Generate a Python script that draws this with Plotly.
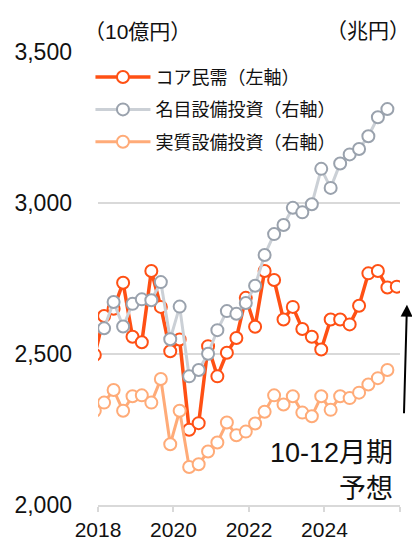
import plotly.graph_objects as go

# Quarterly dates (plotted at the third month of each quarter), 2017Q4 .. 2025Q4
quarters = [f"{y}-{m:02d}-01" for y in range(2017, 2026) for m in (3, 6, 9, 12)][3:]

# コア民需 (10億円, left axis)
core_orders = [2497, 2626, 2650, 2736, 2557, 2539, 2775, 2656, 2509,
               2548, 2249, 2271, 2526, 2426, 2504, 2553, 2686,
               2590, 2775, 2745, 2614, 2656, 2583, 2557, 2515,
               2614, 2614, 2598, 2660, 2767, 2775, 2720, 2723]

# 名目設備投資 (兆円, right axis)
nominal_capex = [None, 89.5, 92.4, 89.7, 92.2, 92.7, 92.6, 94.6, 88.3,
                 91.9, 84.2, 84.9, 86.7, 89.3, 91.4, 91.1, 92.3,
                 94.2, 97.6, 99.9, 100.9, 102.8, 102.3, 103.2, 107.1,
                 105.0, 107.7, 108.7, 109.3, 110.7, 112.8, 113.7, None]

# 実質設備投資 (兆円, right axis)
real_capex = [80.4, 81.3, 82.7, 80.4, 82.0, 82.1, 81.3, 83.9, 76.7,
              80.4, 74.2, 74.5, 75.9, 76.9, 79.1, 77.7, 78.1,
              79.0, 80.3, 82.1, 81.1, 82.0, 80.2, 79.8, 82.0,
              80.5, 82.0, 81.8, 82.4, 83.3, 84.0, 84.9, None]

left_ticks = [2000, 2500, 3000, 3500]
x_tick_years = ["2018", "2020", "2022", "2024", "2026"]
x_tick_text = ["2018", "2020", "2022", "2024", ""]

FONT = "Arial, 'Liberation Sans', 'Noto Sans CJK JP', sans-serif"
ORANGE = "#FF5014"
GRAY_LINE = "#CBD0D6"
GRAY_MARK = "#9AA2AD"
LIGHT = "#FFAB78"

fig = go.Figure()
fig.add_trace(go.Scatter(
    x=quarters, y=core_orders, name="コア民需（左軸）", yaxis="y",
    mode="lines+markers", legendgroup="a",
    line=dict(color=ORANGE, width=3.5),
    marker=dict(symbol="circle", size=12, color="white",
                line=dict(color=ORANGE, width=2)),
))
fig.add_trace(go.Scatter(
    x=quarters, y=nominal_capex, name="名目設備投資（右軸）", yaxis="y2",
    mode="lines+markers", legendgroup="b",
    line=dict(color=GRAY_LINE, width=3),
    marker=dict(symbol="circle", size=12, color="white",
                line=dict(color=GRAY_MARK, width=2)),
))
fig.add_trace(go.Scatter(
    x=quarters, y=real_capex, name="実質設備投資（右軸）", yaxis="y2",
    mode="lines+markers", legendgroup="c",
    line=dict(color=LIGHT, width=3),
    marker=dict(symbol="circle", size=12, color="white",
                line=dict(color=LIGHT, width=2)),
))

fig.update_layout(
    width=412, height=542,
    margin=dict(l=98, r=12, t=52, b=37, autoexpand=False),
    paper_bgcolor="white", plot_bgcolor="white",
    font=dict(family=FONT, color="#111111", size=18),
    showlegend=True,
    legend=dict(
        x=-0.025, y=0.985, xanchor="left", yanchor="top",
        bgcolor="rgba(0,0,0,0)", font=dict(size=18, family=FONT),
        tracegroupgap=6, itemwidth=55,
    ),
    xaxis=dict(
        type="date", automargin=False,
        range=["2018-01-01", "2026-01-01"],
        tickvals=[f"{y}-01-01" for y in x_tick_years],
        ticktext=x_tick_text,
        ticks="outside", ticklen=5, tickwidth=1.5, tickcolor="#D9D9D9",
        showline=True, linecolor="#D9D9D9", linewidth=2,
        showgrid=False, zeroline=False,
        tickfont=dict(size=21, family=FONT, color="#111111"),
    ),
    yaxis=dict(
        range=[2000, 3500], automargin=False,
        tickvals=left_ticks, tickformat=",",
        showgrid=True, gridcolor="#D9D9D9", gridwidth=1.5,
        zeroline=False, showline=False, ticks="",
        ticklabelstandoff=25,
        tickfont=dict(size=23, family=FONT, color="#111111"),
    ),
    yaxis2=dict(
        range=[70, 120], overlaying="y", side="right", automargin=False,
        showgrid=False, showticklabels=False, zeroline=False,
        showline=False, ticks="",
    ),
)

annotations = [
    dict(text="（10億円）", x=-0.052, y=(505 - 32) / 452.3, xref="paper", yref="paper",
         xanchor="left", yanchor="middle", showarrow=False,
         font=dict(size=21, family=FONT)),
    dict(text="（兆円）", x=1.04, y=(505 - 31) / 452.3, xref="paper", yref="paper",
         xanchor="right", yanchor="middle", showarrow=False,
         font=dict(size=21, family=FONT)),
    dict(text="10-12月期", x=0.984, y=(505 - 453) / 452.3, xref="paper", yref="paper",
         xanchor="right", yanchor="middle", showarrow=False,
         font=dict(size=27, family=FONT)),
    dict(text="予想", x=0.984, y=(505 - 489) / 452.3, xref="paper", yref="paper",
         xanchor="right", yanchor="middle", showarrow=False,
         font=dict(size=27, family=FONT)),
    dict(text="", x=1.023, y=(505 - 305) / 452.3, xref="paper", yref="paper",
         showarrow=True, axref="pixel", ayref="pixel", ax=-3, ay=110,
         arrowhead=2, arrowsize=1.2, arrowwidth=2, arrowcolor="#000000"),
]
fig.update_layout(annotations=annotations)

fig.write_html("out.html")
